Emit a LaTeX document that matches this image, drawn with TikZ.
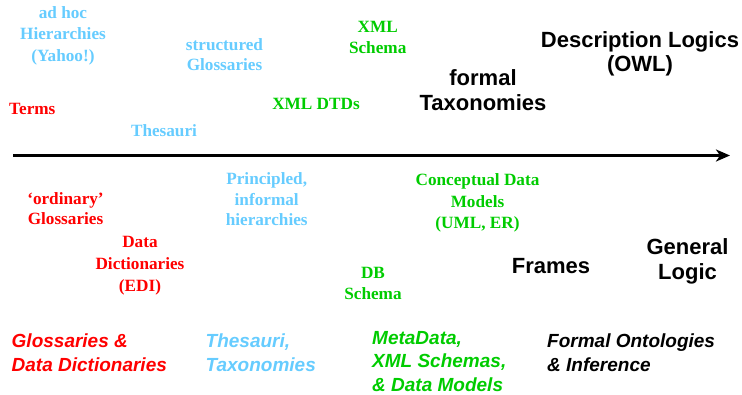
\documentclass[tikz,border=0pt]{standalone}
\usepackage{fontspec}
\setmainfont{Liberation Serif}[Ligatures=TeX]
\newfontfamily\arialfont{Liberation Sans}[Ligatures=TeX]
\usetikzlibrary{arrows.meta}
\definecolor{cred}{RGB}{255,0,0}
\definecolor{cblue}{RGB}{102,204,255}
\definecolor{cgreen}{RGB}{0,204,0}
\tikzset{
  serif/.style={anchor=base, inner sep=0pt, align=center,
    font=\fontsize{17.2}{21.5}\selectfont\bfseries},
  sans/.style={anchor=base, inner sep=0pt, align=center,
    font=\fontsize{22}{25}\selectfont\arialfont\bfseries, text=black},
  cat/.style={anchor=base west, inner sep=0pt, align=left,
    font=\fontsize{19}{24}\selectfont\arialfont\bfseries\itshape},
  axis/.style={line width=3pt, -{Stealth[length=14pt,width=12pt,inset=4pt]}}
}
\begin{document}
\begin{tikzpicture}[x=1pt,y=-1pt]
\useasboundingbox (0,0) rectangle (742,395);
% axis
\coordinate (a0) at (13,155.5);
\coordinate (a1) at (730,155.5);
\draw[axis] (a0) -- (a1);
% above the axis (anchors at the baseline of the last line)
\node[serif, text=cblue] (adhoc) at (63,61.5) {ad hoc\\Hierarchies\\(Yahoo!)};
\node[serif, text=cblue, font=\fontsize{17.2}{20}\selectfont\bfseries] (sglos) at (224.5,71) {structured\\Glossaries};
\node[serif, text=cred] (terms) at (32.3,114.3) {Terms};
\node[serif, text=cblue] (thes) at (164,136.7) {Thesauri};
\node[serif, text=cgreen] (xmls) at (377.7,54) {XML\\Schema};
\node[serif, text=cgreen] (dtd) at (316,110) {XML DTDs};
\node[sans] (ftax) at (483,111) {formal\\Taxonomies};
\node[sans, font=\fontsize{22}{24}\selectfont\arialfont\bfseries] (dl) at (640,72) {Description Logics\\(OWL)};
% below the axis
\node[serif, text=cred, font=\fontsize{17.2}{20}\selectfont\bfseries] (oglos) at (65.5,225) {‘ordinary’\\Glossaries};
\node[serif, text=cred, font=\fontsize{17.2}{22}\selectfont\bfseries] (dd) at (140,291.7) {Data\\Dictionaries\\(EDI)};
\node[serif, text=cblue, font=\fontsize{17.2}{20.5}\selectfont\bfseries] (pih) at (266.7,226) {Principled,\\informal\\hierarchies};
\node[serif, text=cgreen] (dbs) at (373,300) {DB\\Schema};
\node[serif, text=cgreen, font=\fontsize{17.2}{21.7}\selectfont\bfseries] (cdm) at (477.5,229) {Conceptual Data\\Models\\(UML, ER)};
\node[sans] (frames) at (551,273.3) {Frames};
\node[sans] (gl) at (687.5,280) {General\\Logic};
% categories
\node[cat, text=cred] (c1) at (11.5,371) {Glossaries \&\\Data Dictionaries};
\node[cat, text=cblue] (c2) at (205.5,371) {Thesauri,\\Taxonomies};
\node[cat, text=cgreen, font=\fontsize{19}{23.5}\selectfont\arialfont\bfseries\itshape] (c3) at (372,391.5) {MetaData,\\XML Schemas,\\\& Data Models};
\node[cat, text=black] (c4) at (547,371) {Formal Ontologies\\\& Inference};
\end{tikzpicture}
\end{document}
